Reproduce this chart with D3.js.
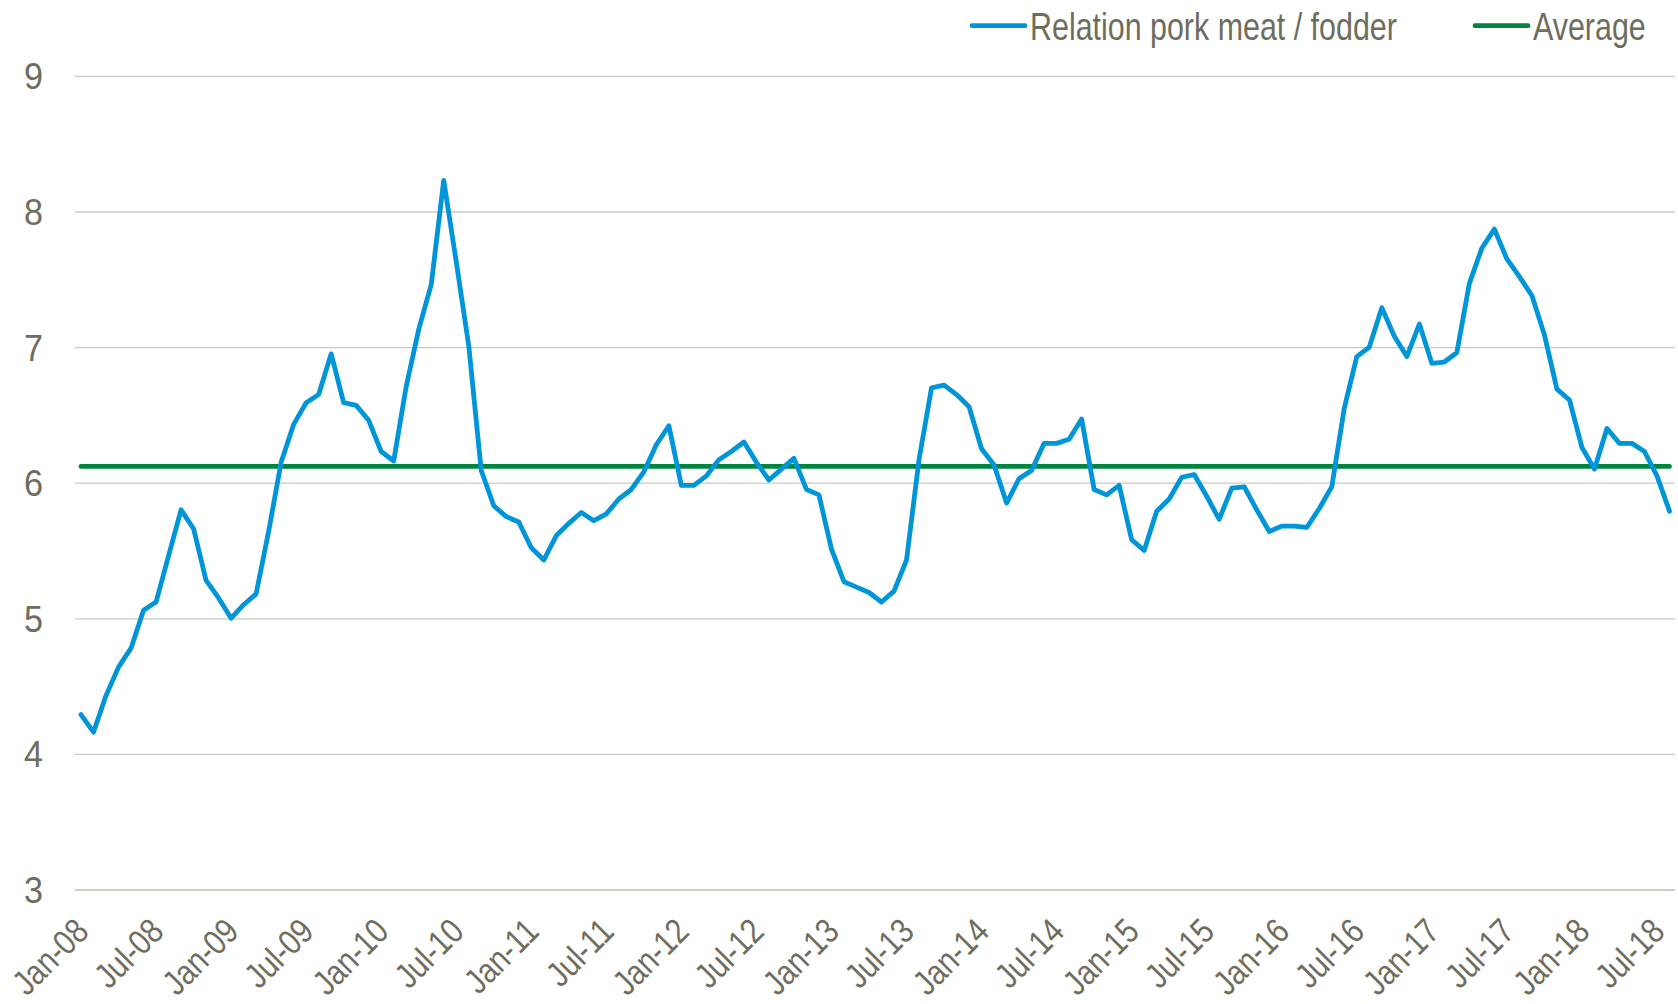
<!DOCTYPE html>
<html><head><meta charset="utf-8">
<script src="https://cdn.jsdelivr.net/npm/d3@7"></script>
<style>
html,body{margin:0;padding:0;background:#fff;}
svg{display:block;}
text{font-family:"Liberation Sans",Arial,sans-serif;}
</style></head><body>
<svg id="chart" width="1678" height="1004"></svg>
<script>
const months = [
"Jan-08","Feb-08","Mar-08","Apr-08","May-08","Jun-08","Jul-08","Aug-08","Sep-08","Oct-08","Nov-08","Dec-08",
"Jan-09","Feb-09","Mar-09","Apr-09","May-09","Jun-09","Jul-09","Aug-09","Sep-09","Oct-09","Nov-09","Dec-09",
"Jan-10","Feb-10","Mar-10","Apr-10","May-10","Jun-10","Jul-10","Aug-10","Sep-10","Oct-10","Nov-10","Dec-10",
"Jan-11","Feb-11","Mar-11","Apr-11","May-11","Jun-11","Jul-11","Aug-11","Sep-11","Oct-11","Nov-11","Dec-11",
"Jan-12","Feb-12","Mar-12","Apr-12","May-12","Jun-12","Jul-12","Aug-12","Sep-12","Oct-12","Nov-12","Dec-12",
"Jan-13","Feb-13","Mar-13","Apr-13","May-13","Jun-13","Jul-13","Aug-13","Sep-13","Oct-13","Nov-13","Dec-13",
"Jan-14","Feb-14","Mar-14","Apr-14","May-14","Jun-14","Jul-14","Aug-14","Sep-14","Oct-14","Nov-14","Dec-14",
"Jan-15","Feb-15","Mar-15","Apr-15","May-15","Jun-15","Jul-15","Aug-15","Sep-15","Oct-15","Nov-15","Dec-15",
"Jan-16","Feb-16","Mar-16","Apr-16","May-16","Jun-16","Jul-16","Aug-16","Sep-16","Oct-16","Nov-16","Dec-16",
"Jan-17","Feb-17","Mar-17","Apr-17","May-17","Jun-17","Jul-17","Aug-17","Sep-17","Oct-17","Nov-17","Dec-17",
"Jan-18","Feb-18","Mar-18","Apr-18","May-18","Jun-18","Jul-18","Aug-18"
];

const ratio = [
4.29,4.16,4.43,4.64,4.78,5.06,5.12,5.46,5.80,5.66,5.28,5.15,
5.00,5.10,5.18,5.64,6.15,6.43,6.59,6.65,6.95,6.59,6.57,6.46,
6.23,6.16,6.71,7.13,7.46,8.23,7.63,7.01,6.09,5.83,5.75,5.71,
5.52,5.43,5.61,5.70,5.78,5.72,5.77,5.88,5.95,6.08,6.28,6.42,
5.98,5.98,6.05,6.17,6.23,6.30,6.15,6.02,6.10,6.18,5.95,5.91,
5.51,5.27,5.23,5.19,5.12,5.20,5.43,6.17,6.70,6.72,6.65,6.56,
6.25,6.13,5.85,6.03,6.09,6.29,6.29,6.32,6.47,5.95,5.91,5.98,
5.58,5.50,5.79,5.88,6.04,6.06,5.90,5.73,5.96,5.97,5.80,5.64,
5.68,5.68,5.67,5.81,5.97,6.55,6.93,7.00,7.29,7.08,6.93,7.17,
6.88,6.89,6.96,7.47,7.73,7.87,7.65,7.52,7.38,7.09,6.69,6.61,
6.26,6.10,6.40,6.29,6.29,6.23,6.05,5.79
];

const averageValue = 6.12;

const xTickLabels = ["Jan-08","Jul-08","Jan-09","Jul-09","Jan-10","Jul-10","Jan-11","Jul-11","Jan-12","Jul-12","Jan-13",
"Jul-13","Jan-14","Jul-14","Jan-15","Jul-15","Jan-16","Jul-16","Jan-17","Jul-17","Jan-18","Jul-18"];
const yTicks = [3,4,5,6,7,8,9];

const seriesNames = ["Relation pork meat / fodder","Average"];
const seriesColors = ["#0094d8","#00853f"];

const textColor = "#6f6d5e";
const FONT = '"Liberation Sans",Arial,sans-serif';
const svg = d3.select("#chart");

const gridLeft = 75, gridRight = 1675;
const x = d3.scalePoint().domain(months).range([81, 1669.5]);
const y = d3.scaleLinear().domain([3, 9]).range([889.5, 75.9]);

// y axis with gridlines
const yAxis = svg.append("g")
  .attr("transform", `translate(${gridLeft},0)`)
  .call(d3.axisLeft(y).tickValues(yTicks).tickSize(-(gridRight - gridLeft)).tickFormat(d3.format("d")));
yAxis.select(".domain").remove();
yAxis.selectAll(".tick line").attr("stroke", d => d === 3 ? "#bcbcab" : "#cccac2").attr("stroke-width", 1.3);
yAxis.selectAll(".tick text")
  .attr("fill", textColor).attr("font-size", 36).attr("font-family", FONT)
  .attr("text-anchor", "end").attr("x", 0).attr("dy", "0.36em")
  .attr("transform", "translate(-32,0) scale(0.95,1)");

// x axis labels
const xAxis = svg.append("g")
  .attr("transform", `translate(0,${y(3)})`)
  .call(d3.axisBottom(x).tickValues(xTickLabels).tickSize(0));
xAxis.select(".domain").remove();
xAxis.selectAll(".tick text")
  .attr("fill", textColor).attr("font-size", 35).attr("font-family", FONT)
  .attr("text-anchor", "end")
  .attr("x", 0).attr("y", 0).attr("dy", 0)
  .attr("transform", "translate(9,44) rotate(-45) scale(0.84,1)");

// average line
const avgLine = d3.line().x(d => x(d)).y(() => y(averageValue));
svg.append("path")
  .datum([months[0], months[months.length - 1]])
  .attr("d", avgLine)
  .attr("fill", "none").attr("stroke", seriesColors[1]).attr("stroke-width", 4.8).attr("stroke-linecap", "round");

// main line
const line = d3.line().x((d, i) => x(months[i])).y(d => y(d));
svg.append("path")
  .datum(ratio)
  .attr("d", line)
  .attr("fill", "none").attr("stroke", seriesColors[0]).attr("stroke-width", 4.8)
  .attr("stroke-linejoin", "round").attr("stroke-linecap", "round");

// legend
const legendItems = [
  {name: seriesNames[0], color: seriesColors[0], x0: 972},
  {name: seriesNames[1], color: seriesColors[1], x0: 1475}
];
const lg = svg.append("g");
legendItems.forEach(it => {
  lg.append("line").attr("x1", it.x0).attr("x2", it.x0 + 53).attr("y1", 25.7).attr("y2", 25.7)
    .attr("stroke", it.color).attr("stroke-width", 4.8).attr("stroke-linecap", "round");
  lg.append("text")
    .attr("transform", `translate(${it.x0 + 58},39.5) scale(0.77,1)`)
    .attr("fill", textColor).attr("font-size", 39.5).attr("font-family", FONT).text(it.name);
});
</script>
</body></html>
